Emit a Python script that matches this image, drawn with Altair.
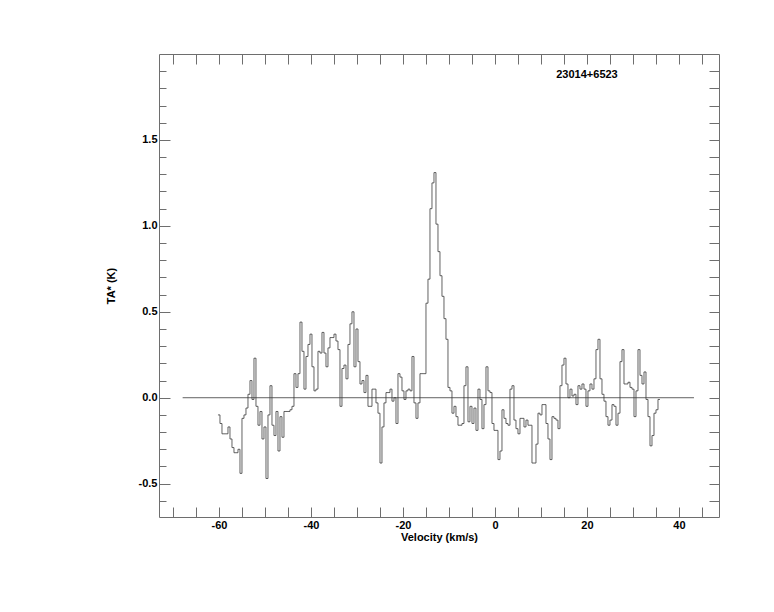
import altair as alt
import pandas as pd

# Spectrum values (TA*, K), one per channel
ta_k = [
    -0.10, -0.15, -0.21, -0.21, -0.21, -0.17, -0.24, -0.29, -0.32, -0.32,
    -0.30, -0.44, -0.12, -0.10, -0.06, 0.02, 0.10, -0.01, 0.23, -0.05,
    -0.16, -0.08, -0.24, -0.17, -0.47, -0.10, 0.07, -0.16, -0.22, -0.08,
    -0.31, -0.11, -0.23, -0.08, -0.08, -0.08,
    -0.07, -0.05, 0.14, 0.06, 0.14, 0.44, 0.27, 0.05, 0.24, 0.31,
    0.37, 0.18, 0.04, 0.05, 0.27, 0.26, 0.38, 0.26, 0.18, 0.29,
    0.35, 0.35, 0.37, 0.33, 0.28, -0.05, 0.17, 0.19, 0.11, 0.31,
    0.43, 0.50, 0.18, 0.40, 0.21, 0.08, 0.10, 0.03, 0.13, -0.05,
    -0.05, 0.05, 0.05, -0.03, -0.09, -0.38, -0.17, -0.03, 0.03, 0.03,
    0.05, -0.02, 0.00, -0.15, 0.14, 0.12, 0.04, -0.01, 0.04, 0.05,
    0.04, 0.24, -0.03, -0.12, -0.03, 0.14, 0.14, 0.14, 0.55, 0.69,
    1.10, 1.25, 1.31, 1.01, 0.85, 0.71, 0.59, 0.46, 0.34, 0.06,
    0.04, -0.09, -0.05, -0.11, -0.16, -0.16, -0.15, 0.07, 0.18, -0.14,
    -0.05, -0.15, -0.06, -0.19, 0.05, -0.01, -0.18, -0.04, 0.18, 0.04,
    0.03, -0.15, -0.19, -0.19, -0.36, -0.31, -0.07, -0.12, -0.15, -0.16,
    0.05, 0.07, -0.13, -0.18, -0.21, -0.12, -0.12, -0.17, -0.13, -0.16,
    -0.16, -0.38, -0.38, -0.27, -0.09, -0.10, -0.04, -0.04, -0.15, -0.24,
    -0.36, -0.11, -0.12, -0.13, -0.18, 0.07, 0.19, 0.23, 0.08, 0.00,
    0.05, 0.01, 0.02, -0.04, 0.07, 0.05, 0.08, 0.05, -0.05, 0.04,
    0.08, 0.05, 0.11, 0.28, 0.34, 0.11, 0.02, -0.02, -0.11, -0.16,
    -0.13, -0.04, -0.05, -0.16, -0.09, 0.21, 0.28, 0.08, 0.08, 0.09,
    0.06, 0.05, -0.11, 0.04, 0.28, 0.13, 0.08, 0.15, -0.01, -0.11,
    -0.28, -0.22, -0.09, -0.07, -0.01,
]
chan_start = -60.22      # left edge of first channel (km/s)
chan_width = 0.4348      # channel width (km/s)

baseline_v = [-67.9, 43.26]
baseline_t = [0.0, 0.0]

x_ticks = [-70, -65, -60, -55, -50, -45, -40, -35, -30, -25, -20, -15, -10,
           -5, 0, 5, 10, 15, 20, 25, 30, 35, 40, 45]
x_labels = [-60, -40, -20, 0, 20, 40]
y_major = [-0.5, 0.0, 0.5, 1.0, 1.5]
y_minor = [-0.6, -0.4, -0.3, -0.2, -0.1, 0.1, 0.2, 0.3, 0.4, 0.6, 0.7, 0.8,
           0.9, 1.1, 1.2, 1.3, 1.4, 1.6, 1.7, 1.8, 1.9]
y_all = sorted(y_major + y_minor)

label_text = ["23014+6523"]
label_v = [20.0]
label_t = [1.876]

x_domain = [-73.04, 48.70]
y_domain = [-0.694, 2.0]

FONT = "Liberation Sans"
GRAY = "#6e6e6e"
LINE = "#3a3a3a"

edges = [round(chan_start + chan_width * i, 4) for i in range(len(ta_k) + 1)]
spec_df = pd.DataFrame({"v": edges, "t": ta_k + [ta_k[-1]]})
base_df = pd.DataFrame({"v": baseline_v, "t": baseline_t})
lab_df = pd.DataFrame({"v": label_v, "t": label_t, "txt": label_text})

xs = alt.Scale(domain=x_domain, nice=False, zero=False)
ys = alt.Scale(domain=y_domain, nice=False, zero=False)

x_lab_expr = ("indexof([" + ",".join(str(v) for v in x_labels) +
              "], datum.value) >= 0 ? replace(datum.label, '\u2212', '-') : ''")

spec = alt.Chart(spec_df).mark_line(
    interpolate="step-after", color=LINE, strokeWidth=0.8
).encode(
    x=alt.X("v:Q", scale=xs, axis=alt.Axis(
        orient="bottom", values=x_ticks, tickSize=10, offset=-10,
        domain=False, grid=False, labelExpr=x_lab_expr, labelPadding=2,
        labelFlush=False, labelOverlap=False,
        title="Velocity (km/s)", titlePadding=1)),
    y=alt.Y("t:Q", scale=ys, axis=alt.Axis(
        orient="left", values=y_major, tickSize=11, offset=-11,
        domain=False, grid=False, format=".1f",
        labelExpr="replace(datum.label, '\u2212', '-')", labelPadding=2,
        labelFlush=False, labelOverlap=False,
        title="TA* (K)", titlePadding=22)),
)

zero = alt.Chart(base_df).mark_line(color=LINE, strokeWidth=0.8).encode(
    x=alt.X("v:Q", scale=xs, axis=alt.Axis(
        orient="top", values=x_ticks, tickSize=10, offset=-10,
        domain=False, grid=False, labels=False, title=None)),
    y=alt.Y("t:Q", scale=ys, axis=alt.Axis(
        orient="left", values=y_minor, tickSize=7, offset=-7,
        domain=False, grid=False, labels=False, title=None)),
)

label = alt.Chart(lab_df).mark_text(
    font=FONT, fontWeight="bold", fontSize=11, color="black",
    align="center", baseline="middle"
).encode(
    x=alt.X("v:Q", scale=xs, axis=None),
    y=alt.Y("t:Q", scale=ys, axis=alt.Axis(
        orient="right", values=y_all, tickSize=10, offset=-10,
        domain=False, grid=False, labels=False, title=None)),
    text="txt:N",
)

chart = alt.layer(spec, zero, label).resolve_axis(
    x="independent", y="independent"
).properties(
    width=560, height=463,
    padding={"left": 151, "top": 46, "right": 40, "bottom": 80},
    autosize=alt.AutoSizeParams(type="none"),
    background="white",
).configure_view(
    stroke=GRAY, strokeWidth=1
).configure_axis(
    labelFont=FONT, labelFontSize=11, labelFontWeight="bold",
    labelColor="black", titleFont=FONT, titleFontSize=11,
    titleFontWeight="bold", titleColor="black",
    tickColor=GRAY, tickWidth=1,
)

chart.save("out.html", embed_options={"renderer": "svg", "actions": False})
